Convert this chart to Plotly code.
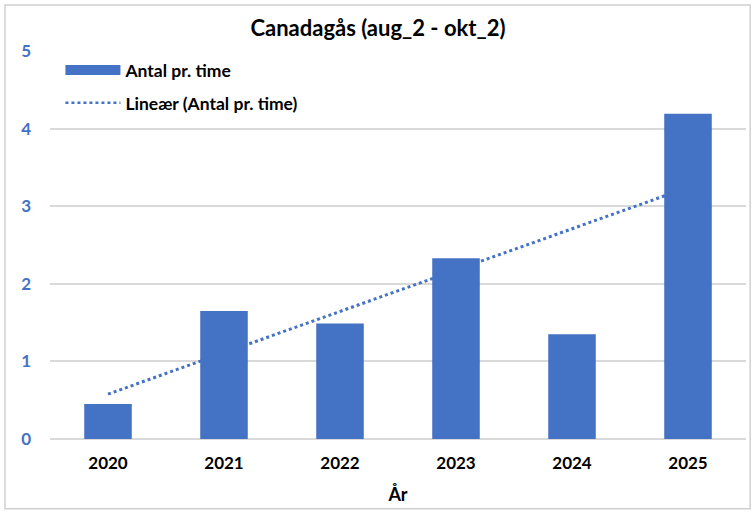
import numpy as np
import plotly.graph_objects as go

years = ["2020", "2021", "2022", "2023", "2024", "2025"]
antal = [0.45, 1.65, 1.49, 2.33, 1.35, 4.19]
y_ticks = [0, 1, 2, 3, 4, 5]

title_text = "Canadagås (aug_2 - okt_2)"
bar_name = "Antal pr. time"
trend_name = "Lineær (Antal pr. time)"
x_title = "År"

blue = "#4472C4"
font_family = "Lato, 'Open Sans', sans-serif"

# linear trendline (least squares on category index)
idx = np.arange(len(years))
slope, intercept = np.polyfit(idx, antal, 1)
trend = list(slope * idx + intercept)

fig = go.Figure()

fig.add_trace(go.Scatter(
    x=years, y=trend, mode="lines", name=trend_name,
    line=dict(color=blue, width=3, dash="dot"),
    showlegend=False, hoverinfo="skip",
))
fig.add_trace(go.Bar(
    x=years, y=antal, name=bar_name, marker=dict(color=blue, line=dict(width=0)),
    width=0.41, showlegend=False,
))
# legend proxies
fig.add_trace(go.Scatter(
    x=[None], y=[None], mode="lines", name=bar_name,
    line=dict(color=blue, width=10), legendgroup="a",
))
fig.add_trace(go.Scatter(
    x=[None], y=[None], mode="lines", name=trend_name,
    line=dict(color=blue, width=2.5, dash="dot"), legendgroup="b",
))

fig.update_layout(
    width=756, height=516,
    margin=dict(l=50, r=10, t=51, b=77),
    paper_bgcolor="white", plot_bgcolor="white",
    font=dict(family=font_family, color="black"),
    title=dict(text=title_text, x=0.5, xanchor="center", y=0.945, yanchor="middle",
               font=dict(size=22, color="black", family=font_family, weight="bold")),
    showlegend=True,
    legend=dict(x=0.015, y=0.997, xanchor="left", yanchor="top",
                bgcolor="rgba(0,0,0,0)", traceorder="grouped", tracegroupgap=7,
                itemwidth=55,
                font=dict(size=17.5, color="black", family=font_family, weight="bold")),
    xaxis=dict(
        type="category", showgrid=False, showline=False, ticks="",
        tickfont=dict(size=17, color="black", family=font_family, weight="bold"),
        ticklabelstandoff=12,
        title=dict(text=x_title, standoff=16,
                   font=dict(size=18, color="black", family=font_family, weight="bold")),
    ),
    yaxis=dict(
        range=[0, 5], tickvals=y_ticks, showgrid=True, gridcolor="#D9D9D9", gridwidth=1.5,
        zeroline=True, zerolinecolor="#D9D9D9", zerolinewidth=1.5, showline=False, ticks="",
        tickfont=dict(size=17, color=blue, family=font_family, weight="bold"),
        ticklabelstandoff=18,
    ),
    bargap=0.6,
    shapes=[dict(type="rect", xref="paper", yref="paper",
                 x0=-0.0647, x1=1.006, y0=-0.18, y1=1.1186,
                 line=dict(color="#D0D0D0", width=1.5), layer="below")],
)

fig.write_html("out.html", config={"displayModeBar": False},
               post_script="document.body.style.margin='0';document.body.style.padding='0';")
